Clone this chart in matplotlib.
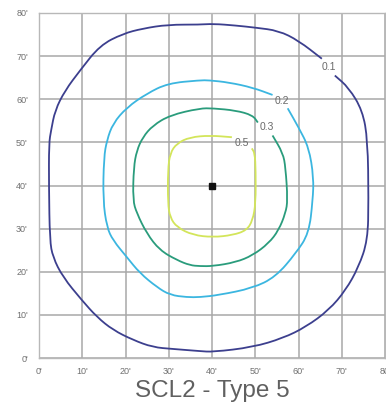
import matplotlib
matplotlib.use("Agg")
import matplotlib.pyplot as plt
from matplotlib.path import Path
from matplotlib.patches import PathPatch

# ---- data (feet) ----
ticks = [0, 10, 20, 30, 40, 50, 60, 70, 80]
tick_labels = ["0'", "10'", "20'", "30'", "40'", "50'", "60'", "70'", "80'"]
title = "SCL2 - Type 5"
source_xy = (40, 40)

levels = ["0.1", "0.2", "0.3", "0.5"]
level_colors = ["#3c3f8e", "#3bb6e0", "#2a9c7c", "#d3e55a"]

c01_x = [65.4, 60.0, 55.4, 50.1, 45.5, 40.2, 37.2, 29.8, 24.0, 19.4, 14.1, 9.5, 6.0, 3.7, 2.8, 2.3, 2.3,
         2.5, 3.2, 5.5, 9.9, 13.4, 17.1, 21.7, 26.3, 30.9, 37.2, 40.2, 49.4, 56.4, 61.7, 67.0, 70.9,
         73.9, 76.0, 76.2, 76.0, 74.8, 71.6, 68.4]
c01_y = [69.4, 73.6, 75.9, 76.6, 77.1, 77.5, 77.3, 77.3, 76.4, 75.2, 72.5, 66.7, 62.0, 57.4, 52.8, 49.8, 39.6,
         27.3, 23.4, 18.8, 13.4, 9.5, 6.5, 4.2, 2.5, 2.1, 1.6, 1.4, 2.5, 4.6, 7.2, 11.1, 15.7,
         21.1, 27.3, 36.6, 50.5, 57.4, 62.7, 65.5]

c02_x = [54.0, 49.4, 43.9, 39.3, 37.2, 29.8, 24.9, 20.3, 17.1, 15.7, 15.0, 14.8, 15.7, 17.1, 20.3, 23.3,
         27.3, 30.3, 34.2, 37.2, 41.6, 49.4, 54.7, 59.4, 62.4, 63.3, 63.5, 62.4, 60.0, 57.5]
c02_y = [61.0, 62.7, 63.9, 64.4, 64.4, 63.7, 61.3, 58.1, 54.4, 50.5, 46.5, 36.6, 30.3, 27.3, 23.4, 19.7,
         16.4, 14.6, 14.1, 14.1, 14.6, 16.2, 18.8, 24.3, 28.9, 36.6, 41.9, 48.8, 53.5, 57.9]

c03_x = [50.6, 49.4, 45.5, 40.2, 37.2, 30.3, 26.3, 24.0, 22.6, 21.9, 21.7, 22.6, 24.9, 27.9, 31.9, 34.9,
         37.2, 40.2, 45.5, 49.4, 53.1, 55.4, 57.0, 57.5, 57.0, 56.4, 54.0]
c03_y = [54.6, 56.3, 57.4, 57.9, 57.9, 56.3, 53.9, 51.2, 48.1, 44.2, 36.6, 33.6, 28.9, 25.0, 22.7, 21.5,
         21.3, 21.3, 22.2, 23.8, 26.6, 29.6, 33.6, 36.6, 44.2, 47.5, 51.6]

c05_x = [44.6, 39.5, 34.9, 31.9, 30.3, 29.8, 29.8, 30.3, 31.9, 35.6, 40.2, 44.8, 48.0, 49.4, 50.1, 50.1,
         49.9, 49.2]
c05_y = [51.2, 51.6, 51.2, 49.8, 47.5, 43.5, 35.9, 32.6, 30.3, 28.5, 28.0, 28.5, 29.6, 31.9, 35.9, 43.5,
         47.5, 48.6]

label_x = [67.0, 56.1, 52.7, 46.9]
label_y = [67.4, 59.5, 53.5, 49.8]

contours = [(c01_x, c01_y), (c02_x, c02_y), (c03_x, c03_y), (c05_x, c05_y)]


def smooth_path(xs, ys):
    """Quadratic Bezier path passing smoothly through the traced points."""
    pts = list(zip(xs, ys))
    verts = [pts[0]]
    codes = [Path.MOVETO]
    mid = ((pts[0][0] + pts[1][0]) / 2, (pts[0][1] + pts[1][1]) / 2)
    verts.append(mid)
    codes.append(Path.LINETO)
    for i in range(1, len(pts) - 1):
        nxt = ((pts[i][0] + pts[i + 1][0]) / 2, (pts[i][1] + pts[i + 1][1]) / 2)
        verts += [pts[i], nxt]
        codes += [Path.CURVE3, Path.CURVE3]
    verts.append(pts[-1])
    codes.append(Path.LINETO)
    return Path(verts, codes)


# ---- figure ----
fig = plt.figure(figsize=(3.86, 4.04), dpi=100)
ax = fig.add_axes([39 / 386, 1 - 358 / 404, 346 / 386, 345 / 404])

ax.set_xlim(0, 80)
ax.set_ylim(0, 80)
ax.set_xticks(ticks)
ax.set_yticks(ticks)
ax.set_xticklabels(tick_labels)
ax.set_yticklabels(tick_labels)
ax.tick_params(length=0, labelsize=6.5, labelcolor="#707070")
ax.tick_params(axis="x", pad=6.5)
ax.tick_params(axis="y", pad=8)
for lab in ax.get_xticklabels() + ax.get_yticklabels():
    lab.set_family("Liberation Sans")
ax.grid(True, color="#a8a8a8", linewidth=1.1)
ax.set_axisbelow(True)
for s in ax.spines.values():
    s.set_color("#b8b8b8")
    s.set_linewidth(1.0)

for (xs, ys), col in zip(contours, level_colors):
    ax.add_patch(PathPatch(smooth_path(xs, ys), facecolor="none", edgecolor=col,
                           linewidth=1.3, capstyle="butt", zorder=3))

for lx, ly, lv in zip(label_x, label_y, levels):
    ax.text(lx, ly, lv, fontsize=7.5, color="#6a6a6a", ha="center", va="center",
            family="Liberation Sans", zorder=4)

ax.plot([source_xy[0]], [source_xy[1]], marker="s", markersize=5, color="#111111", zorder=5)

fig.text(212 / 386, 1 - 391 / 404, title, fontsize=17.5, color="#606060",
         ha="center", va="center", family="Liberation Sans")

fig.savefig("out.png", dpi=100)
